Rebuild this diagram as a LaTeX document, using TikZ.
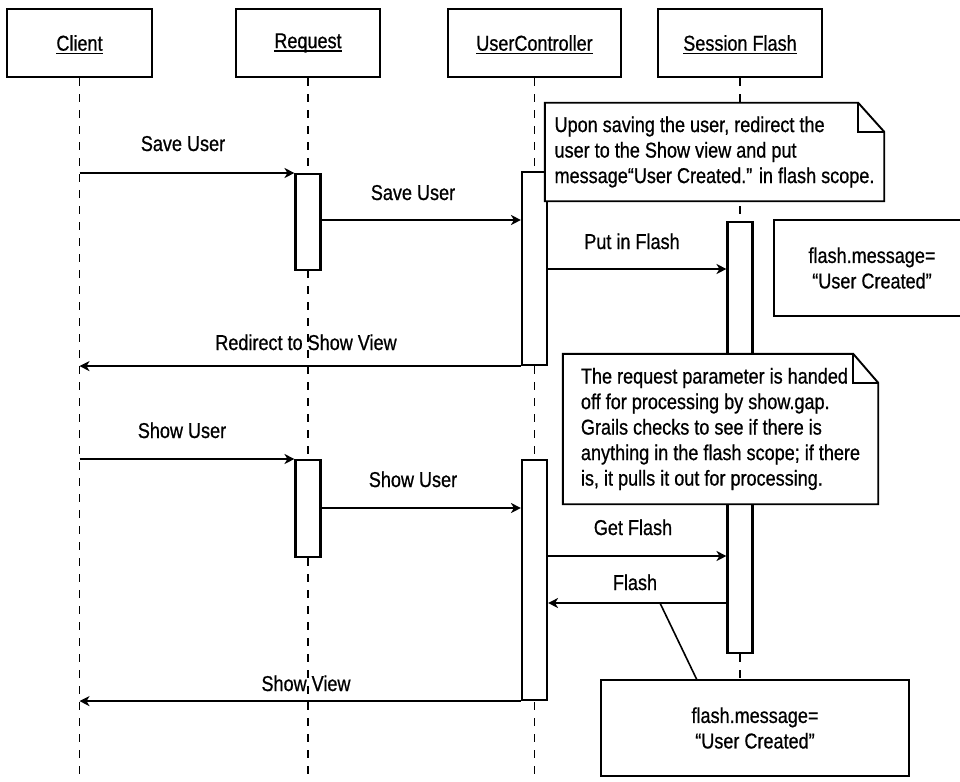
\documentclass[tikz,border=0pt]{standalone}
\usepackage{fontspec}
\setmainfont{Liberation Sans}[FakeStretch=0.84,FakeBold=0.7]
\usetikzlibrary{arrows.meta}

% underlined header label with a heavier rule
\newcommand{\ulabel}[1]{\setbox0=\hbox{#1}\rlap{\copy0}\smash{\rule[-3.4pt]{\wd0}{1.4pt}}}

\begin{document}
\begin{tikzpicture}[x=1pt,y=-1pt,
  every node/.style={font=\fontsize{21.5}{25.5}\selectfont},
  head/.style={draw,line width=2.1pt,minimum height=68pt,inner sep=0pt},
  life/.style={line width=1.8pt,dash pattern=on 8pt off 8pt},
  actbox/.style={draw,fill=white,line width=2.1pt,minimum width=25pt,inner sep=0pt,anchor=north},
  msg/.style={line width=1.8pt,-{Stealth[length=10pt,width=10pt,inset=3pt]}},
  lbl/.style={anchor=base,inner sep=0pt},
  notebody/.style={fill=white,inner sep=0pt,align=left},
  noteline/.style={line width=1.9pt,line join=miter},
  valbox/.style={draw,fill=white,line width=2.1pt,align=center,inner sep=0pt},
  link/.style={line width=1.6pt}
]
\useasboundingbox (0,0) rectangle (960,781);

% participants
\node[head,minimum width=145pt] (client)  at (79.5,43) {\ulabel{Client}};
\node[head,minimum width=144pt] (request) at (308,43)  {\ulabel{Request}};
\node[head,minimum width=173pt] (uc)      at (534.5,43) {\ulabel{UserController}};
\node[head,minimum width=164pt] (sf)      at (740,43)  {\ulabel{Session Flash}};

% lifeline ends
\coordinate (clientEnd)  at (79.5,781);
\coordinate (requestEnd) at (308,781);
\coordinate (ucEnd)      at (534.5,781);
\coordinate (sfEnd)      at (740,680);

\draw[life] (client.south)  -- (clientEnd);
\draw[life] (request.south) -- (requestEnd);
\draw[life] (uc.south)      -- (ucEnd);
\draw[life] (sf.south)      -- (sfEnd);

% activation bars
\node[actbox,minimum height=96pt]  (ra1) at (308,173)   {};
\node[actbox,minimum height=193pt] (ua1) at (534.5,171) {};
\node[actbox,minimum height=431pt] (sa)  at (740,221)   {};
\node[actbox,minimum height=97pt]  (ra2) at (308,459)   {};
\node[actbox,minimum height=240pt] (ua2) at (534.5,459) {};

% value boxes
\node[valbox,minimum width=196pt,minimum height=96pt] (fb1) at (872,268) {flash.message=\\“User Created”};
\node[valbox,minimum width=308pt,minimum height=96pt] (fb2) at (755,728) {flash.message=\\“User Created”};

% notes with folded corner
\node[notebody,minimum width=339pt,minimum height=98pt] (n1) at (714.5,152)
  {Upon saving the user, redirect the\\user to the Show view and put\\message“User Created.” in flash scope.};
\draw[noteline] (n1.north west) -- ([xshift=-26pt]n1.north east) -- ([yshift=-29pt]n1.north east)
  -- (n1.south east) -- (n1.south west) -- cycle;
\draw[noteline] ([xshift=-26pt]n1.north east) |- ([yshift=-29pt]n1.north east);

\node[notebody,minimum width=315pt,minimum height=150pt] (n2) at (720.5,429)
  {The request parameter is handed\\off for processing by show.gap.\\Grails checks to see if there is\\anything in the flash scope; if there\\is, it pulls it out for processing.};
\draw[noteline] (n2.north west) -- ([xshift=-25pt]n2.north east) -- ([yshift=-29pt]n2.north east)
  -- (n2.south east) -- (n2.south west) -- cycle;
\draw[noteline] ([xshift=-25pt]n2.north east) |- ([yshift=-29pt]n2.north east);

% message rows
\coordinate (r2) at (0,220);
\coordinate (r3) at (0,269);
\coordinate (r6) at (0,508);
\coordinate (r7) at (0,556);
\coordinate (r8) at (0,603);

% messages
\draw[msg] (client.south |- ra1.north) -- (ra1.north west);
\draw[msg] (ra1.east |- r2) -- (ua1.west |- r2);
\draw[msg] (ua1.east |- r3) -- (sa.west |- r3);
\draw[msg] (ua1.south west) -- (client.south |- ua1.south);
\draw[msg] (client.south |- ra2.north) -- (ra2.north west);
\draw[msg] (ra2.east |- r6) -- (ua2.west |- r6);
\draw[msg] (ua2.east |- r7) -- (sa.west |- r7);
\draw[msg] (sa.west |- r8) -- (ua2.east |- r8);
\draw[msg] (ua2.south west) -- (client.south |- ua2.south);

% link from the returned flash to its value
\coordinate (flTap)  at (660,603);
\coordinate (fb2Tap) at (697,680);
\draw[link] (flTap) -- (fb2Tap);

% message labels
\node[lbl] (t1) at (183,151) {Save User};
\node[lbl] (t2) at (413,200) {Save User};
\node[lbl] (t3) at (632,249) {Put in Flash};
\node[lbl] (t4) at (306,350) {Redirect to Show View};
\node[lbl] (t5) at (182,438) {Show User};
\node[lbl] (t6) at (413,487) {Show User};
\node[lbl] (t7) at (633,535) {Get Flash};
\node[lbl] (t8) at (635,590) {Flash};
\node[lbl] (t9) at (306,691) {Show View};
\end{tikzpicture}
\end{document}
